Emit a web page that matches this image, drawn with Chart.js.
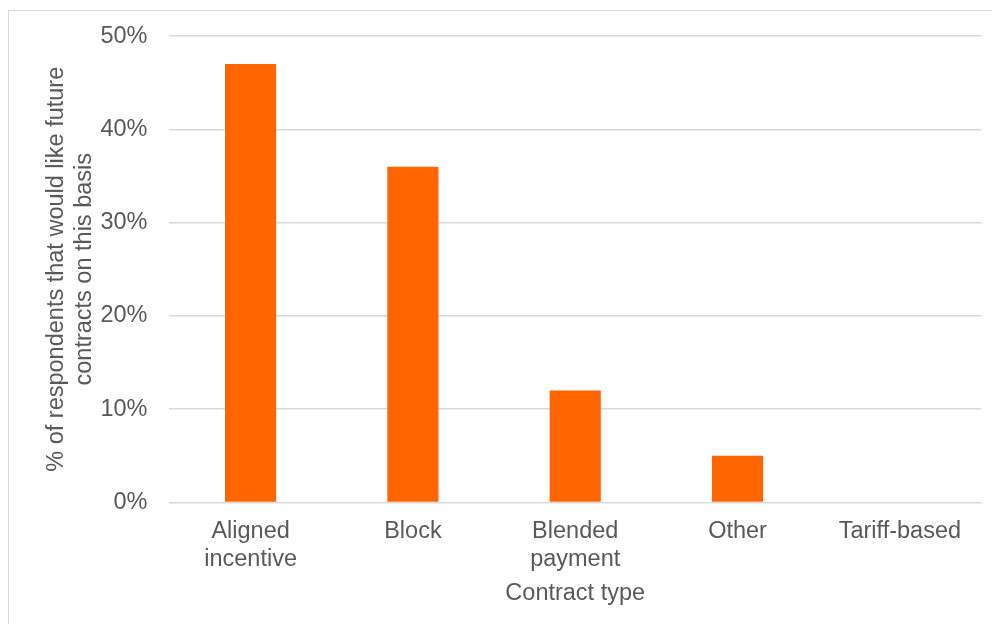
<!DOCTYPE html>
<html><head><meta charset="utf-8">
<script src="https://cdn.jsdelivr.net/npm/chart.js@4/dist/chart.umd.min.js"></script>
<style>
html,body{margin:0;padding:0;background:#fff;overflow:hidden;}
#frame{position:absolute;left:8px;top:10px;width:1100px;height:700px;border:1.5px solid #d9d9d9;box-sizing:border-box;}
#wrap{position:absolute;left:0;top:0;width:992px;height:624px;}
</style></head>
<body>
<div id="frame"></div>
<div id="wrap"><canvas id="c" width="992" height="624"></canvas></div>
<script>
const categories = [["Aligned","incentive"], "Block", ["Blended","payment"], "Other", "Tariff-based"];
const values = [47, 36, 12, 5, 0];
const yTicks = [0, 10, 20, 30, 40, 50];
const yTitle = ["% of respondents that would like future", "contracts on this basis"];
const xTitle = "Contract type";

const font = "'Liberation Sans', Arial, sans-serif";
const textColor = "#595959";

new Chart(document.getElementById('c'), {
  type: 'bar',
  data: {
    labels: categories,
    datasets: [{ data: values, backgroundColor: '#FF6600', borderWidth: 0, barPercentage: 0.63, categoryPercentage: 0.5 }]
  },
  options: {
    responsive: false,
    animation: false,
    devicePixelRatio: 1,
    layout: { padding: { left: 38, right: 11, top: 22, bottom: 12 } },
    plugins: { legend: { display: false }, tooltip: { enabled: false } },
    scales: {
      x: {
        grid: { display: false },
        border: { display: false },
        ticks: { color: textColor, font: { family: font, size: 23.5 }, padding: 7, maxRotation: 0 },
        title: { display: true, text: xTitle, color: textColor, font: { family: font, size: 23.5 }, padding: { top: -1 } }
      },
      y: {
        min: 0, max: 50,
        afterBuildTicks: (axis) => { axis.ticks = yTicks.map(v => ({ value: v })); },
        grid: { color: '#d9d9d9', lineWidth: 1.5, drawTicks: false },
        border: { display: false },
        ticks: { color: textColor, font: { family: font, size: 23.5 }, padding: 22, callback: v => v + '%' },
        title: { display: true, text: yTitle, color: textColor, font: { family: font, size: 23.5, lineHeight: 1.2 }, padding: { top: 4, bottom: -20 } }
      }
    }
  }
});
</script>
</body></html>
